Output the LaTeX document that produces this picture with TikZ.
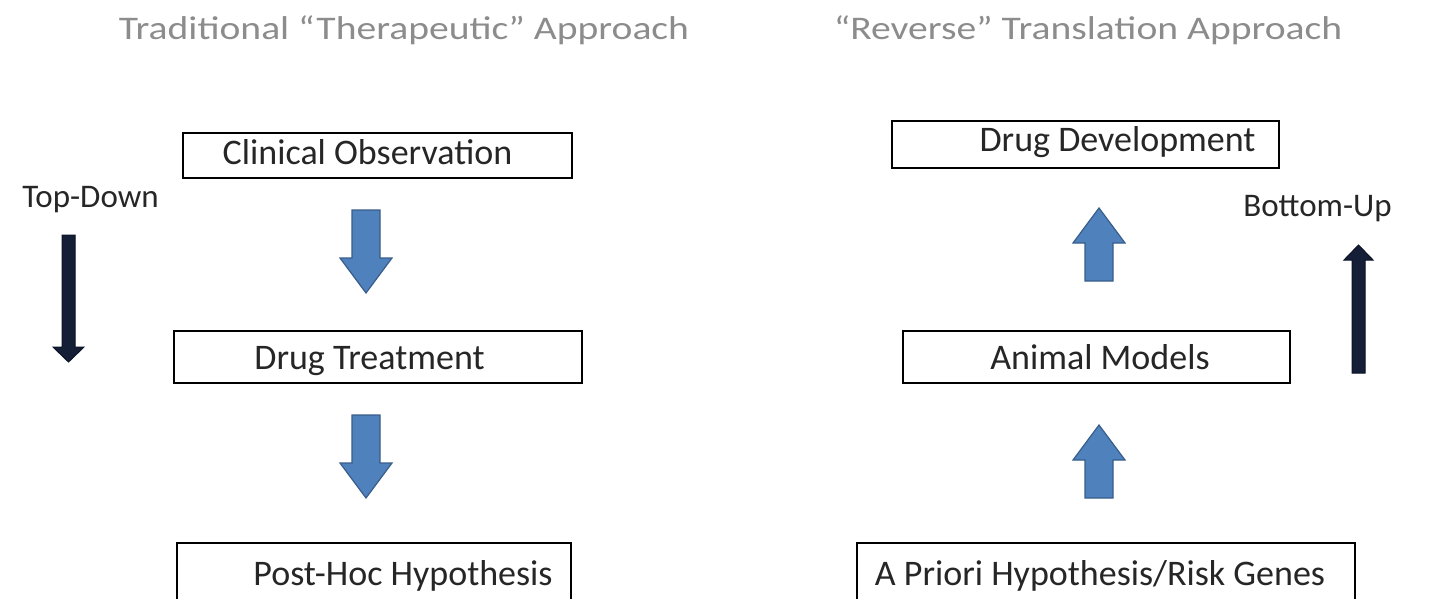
\documentclass[tikz,border=0pt]{standalone}
\usepackage{fontspec}
\setmainfont{Carlito}
\begin{document}
\begin{tikzpicture}[x=0.5pt,y=-0.5pt,
  box/.style={draw=black,line width=1pt,fill=white},
  boxtext/.style={font=\fontsize{18}{21}\selectfont,text=black!85,anchor=base},
  title/.style={font=\fontsize{16.5}{19}\selectfont,text=black!45,anchor=base,xscale=1.2},
  side/.style={font=\fontsize{16.5}{19}\selectfont,text=black!85,anchor=base},
  blockarrow/.style={fill={rgb,255:red,79;green,129;blue,189},draw={rgb,255:red,56;green,93;blue,138},line width=0.6pt},
  darkarrow/.style={fill={rgb,255:red,20;green,30;blue,55},draw={rgb,255:red,10;green,18;blue,38},line width=0.5pt}]
\useasboundingbox (0,0) rectangle (1441,599);
\clip (0,0) rectangle (1441,599);
% titles
\node[title] (t1) at (404,40) {Traditional “Therapeutic” Approach};
\node[title] (t2) at (1088,40) {“Reverse” Translation Approach};
% left boxes
\draw[box] (183,133) rectangle (572,178);
\node[boxtext] (co) at (367.5,164) {Clinical Observation};
\draw[box] (174,331) rectangle (582,383);
\node[boxtext] (dt) at (369.5,369) {Drug Treatment};
\draw[box] (177,543) rectangle (571,620);
\node[boxtext] (ph) at (403,585) {Post-Hoc Hypothesis};
% right boxes
\draw[box] (892,121) rectangle (1279,168);
\node[boxtext] (dd) at (1117.5,152) {Drug Development};
\draw[box] (903,331) rectangle (1290,383);
\node[boxtext] (am) at (1100,369) {Animal Models};
\draw[box] (857,543) rectangle (1355,620);
\node[boxtext] (ap) at (1100,585) {A Priori Hypothesis/Risk Genes};
% blue block arrows (down)
\foreach \y in {210,415}{
  \draw[blockarrow] (352,\y) -- (380,\y) -- (380,\y+48) -- (392,\y+48) -- (366,\y+83) -- (340,\y+48) -- (352,\y+48) -- cycle;
}
% blue block arrows (up)
\foreach \y in {281,498}{
  \draw[blockarrow] (1085,\y) -- (1113,\y) -- (1113,\y-38) -- (1125,\y-38) -- (1099,\y-73) -- (1073,\y-38) -- (1085,\y-38) -- cycle;
}
% side labels
\node[side] (td) at (90.5,207) {Top-Down};
\node[side] (bu) at (1317.5,216) {Bottom-Up};
% dark arrows
\draw[darkarrow] (62,235) -- (75,235) -- (75,347) -- (84,347) -- (68.5,362) -- (53,347) -- (62,347) -- cycle;
\draw[darkarrow] (1352,373) -- (1365,373) -- (1365,260) -- (1373,260) -- (1358.5,245) -- (1344,260) -- (1352,260) -- cycle;
\end{tikzpicture}
\end{document}
